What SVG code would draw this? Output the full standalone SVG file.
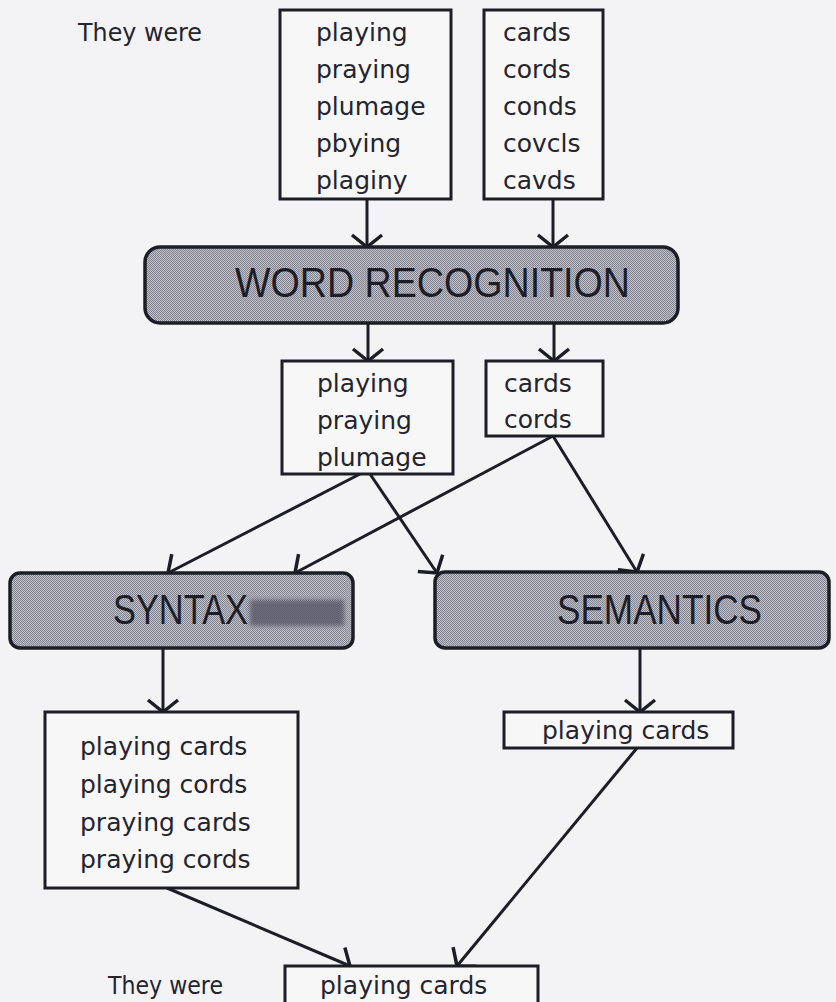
<svg xmlns="http://www.w3.org/2000/svg" width="836" height="1002" viewBox="0 0 836 1002">
<defs>
<style>
.bg{fill:#f3f3f5}
.box{fill:#f7f7f8;stroke:#1d1d26;stroke-width:3}
.gbox{fill:url(#dither);stroke:#1d1d26;stroke-width:3.5}
.t{font-family:"DejaVu Sans",sans-serif;font-size:25px;fill:#24242c}
.cap{font-family:"Liberation Sans",Arial,sans-serif;font-size:43px;fill:#1e1e28}
.c{fill:none;stroke:#1d1d26;stroke-width:3;marker-end:url(#ah)}
</style>
<pattern id="dither" width="2" height="2" patternUnits="userSpaceOnUse">
<rect width="2" height="2" fill="#c4c4ce"/>
<rect width="1" height="1" fill="#80808c"/>
<rect x="1" y="1" width="1" height="1" fill="#80808c"/>
</pattern>
<marker id="ah" markerUnits="userSpaceOnUse" markerWidth="40" markerHeight="40" viewBox="-20 -20 40 40" refX="0" refY="0" orient="auto" overflow="visible">
<path d="M-12,-15 L0,0 L-12,15" fill="none" stroke="#1d1d26" stroke-width="3.5" stroke-linejoin="miter"/>
</marker>
<filter id="blur" x="-20%" y="-40%" width="140%" height="180%"><feGaussianBlur stdDeviation="2"/></filter>
</defs>
<rect class="bg" x="0" y="0" width="836" height="1002"/>

<g id="connectors">
<path class="c" d="M367,199 L367,247"/>
<path class="c" d="M553,199 L553,247"/>
<path class="c" d="M368,323 L368,361"/>
<path class="c" d="M554,323 L554,361"/>
<path class="c" d="M360,474 L168,573"/>
<path class="c" d="M370,474 L437,573"/>
<path class="c" d="M553,436 L295,573"/>
<path class="c" d="M553,436 L637,572"/>
<path class="c" d="M163,648 L163,712"/>
<path class="c" d="M640,648 L640,712"/>
<path class="c" d="M167,888 L350,966"/>
<path class="c" d="M637,748 L457,966"/>
</g>

<g id="label-top">
<text class="t" x="78" y="41" textLength="124" lengthAdjust="spacingAndGlyphs">They were</text>
</g>

<g id="input-words-1">
<rect class="box" x="280" y="10" width="171" height="189"/>
<text class="t" x="316" y="41">playing</text>
<text class="t" x="316" y="78">praying</text>
<text class="t" x="316" y="115">plumage</text>
<text class="t" x="316" y="152">pbying</text>
<text class="t" x="316" y="189">plaginy</text>
</g>

<g id="input-words-2">
<rect class="box" x="484" y="10" width="119" height="189"/>
<text class="t" x="503" y="41">cards</text>
<text class="t" x="503" y="78">cords</text>
<text class="t" x="503" y="115">conds</text>
<text class="t" x="503" y="152">covcls</text>
<text class="t" x="503" y="189">cavds</text>
</g>

<g id="word-recognition">
<rect class="gbox" x="145" y="247" width="533" height="76" rx="15" ry="15"/>
<text class="cap" x="235" y="297" textLength="395" lengthAdjust="spacingAndGlyphs">WORD RECOGNITION</text>
</g>

<g id="candidates-1">
<rect class="box" x="282" y="361" width="171" height="113"/>
<text class="t" x="317" y="392">playing</text>
<text class="t" x="317" y="429">praying</text>
<text class="t" x="317" y="466">plumage</text>
</g>

<g id="candidates-2">
<rect class="box" x="486" y="361" width="117" height="75"/>
<text class="t" x="504" y="392">cards</text>
<text class="t" x="504" y="428">cords</text>
</g>

<g id="syntax">
<rect class="gbox" x="10" y="573" width="343" height="75" rx="10" ry="10"/>
<text class="cap" x="113" y="624" textLength="135" lengthAdjust="spacingAndGlyphs">SYNTAX</text>
<rect x="250" y="600" width="94" height="26" fill="#5c5c6a" opacity="0.85" filter="url(#blur)"/>
</g>

<g id="semantics">
<rect class="gbox" x="435" y="572" width="394" height="76" rx="10" ry="10"/>
<text class="cap" x="557" y="624" textLength="205" lengthAdjust="spacingAndGlyphs">SEMANTICS</text>
</g>

<g id="syntax-output">
<rect class="box" x="45" y="712" width="253" height="176"/>
<text class="t" x="80" y="755">playing cards</text>
<text class="t" x="80" y="793">playing cords</text>
<text class="t" x="80" y="831">praying cards</text>
<text class="t" x="80" y="868">praying cords</text>
</g>

<g id="semantics-output">
<rect class="box" x="504" y="712" width="229" height="36"/>
<text class="t" x="542" y="739">playing cards</text>
</g>

<g id="label-bottom">
<text class="t" x="108" y="994" textLength="115" lengthAdjust="spacingAndGlyphs">They were</text>
</g>

<g id="final-output">
<rect class="box" x="285" y="966" width="253" height="40"/>
<text class="t" x="320" y="994">playing cards</text>
</g>
</svg>
